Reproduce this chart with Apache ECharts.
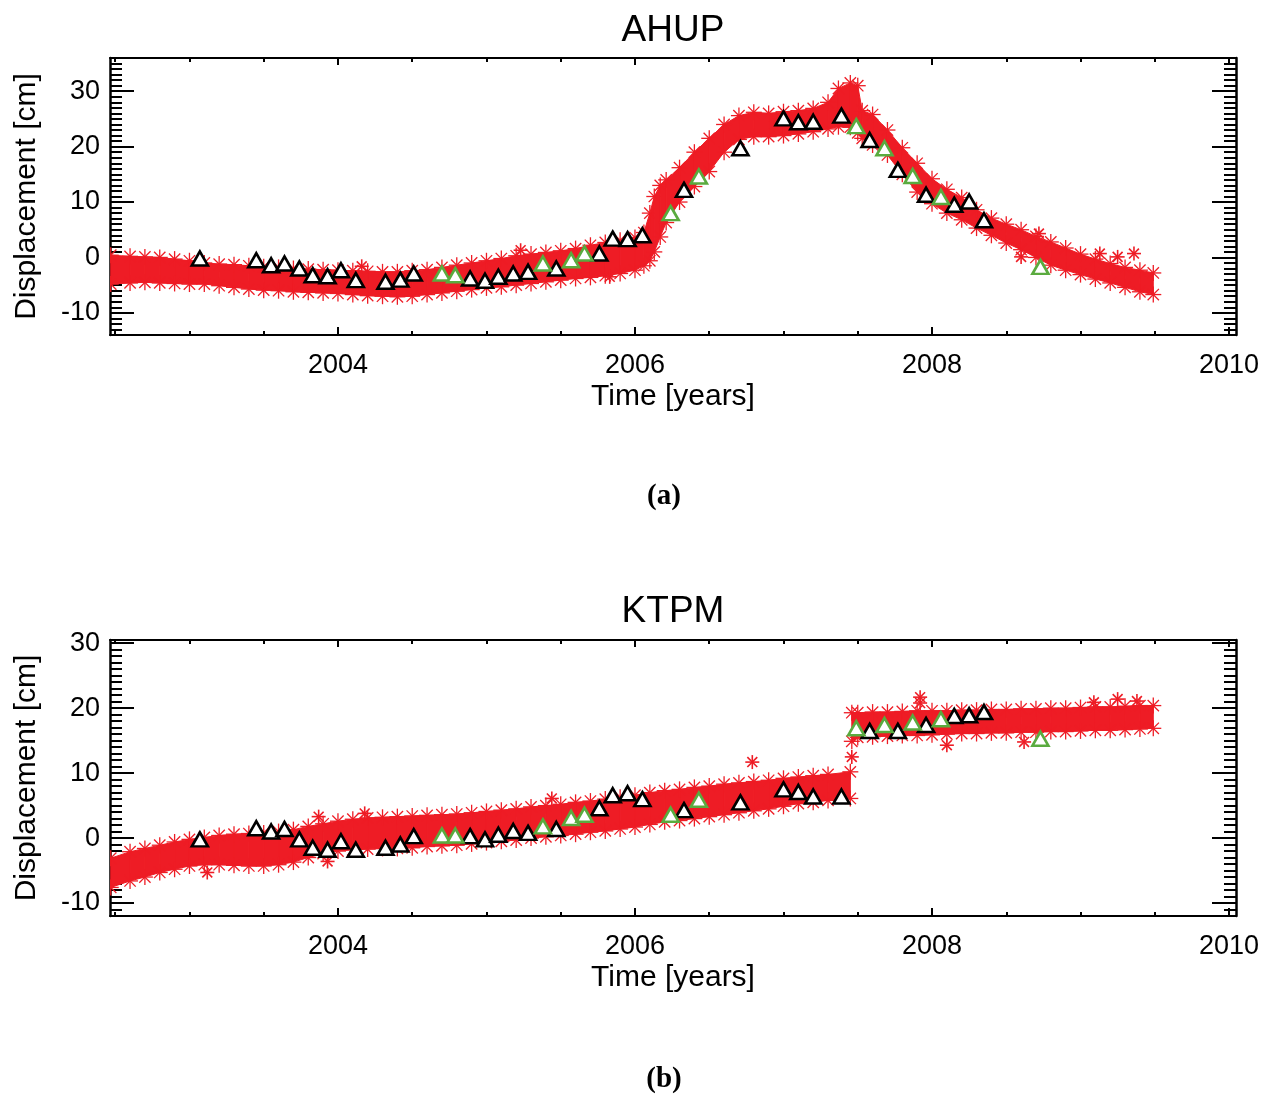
<!DOCTYPE html>
<html>
<head>
<meta charset="utf-8">
<title>AHUP / KTPM displacement</title>
<script src="https://cdn.jsdelivr.net/npm/echarts@6/dist/echarts.min.js"></script>
<style>
    html, body { margin: 0; padding: 0; background: #fff; }
    #main { width: 1278px; height: 1095px; }
</style>
</head>
<body>
<div id="main"></div>
<script>
// axis extents / ticks
var timeRange = [2002.465, 2010.047];
var yearLabels = [2004, 2006, 2008, 2010];
var halfYears = [2002.5, 2003, 2003.5, 2004, 2004.5, 2005, 2005.5, 2006, 2006.5, 2007, 2007.5, 2008, 2008.5, 2009, 2009.5, 2010];
var dispLabels = [-10, 0, 10, 20, 30];
var ahupRange = [-14, 36];
var ktpmRange = [-12, 30.5];

// AHUP GPS band (red asterisks): time, upper edge, lower edge [cm]
var ahupBandT  = [2002.47, 2002.6, 2002.7, 2002.8, 2002.9, 2003.0, 2003.1, 2003.2, 2003.3, 2003.4, 2003.5, 2003.6, 2003.7, 2003.8, 2003.9, 2004.0, 2004.1, 2004.2, 2004.3, 2004.4, 2004.5, 2004.6, 2004.7, 2004.8, 2004.9, 2005.0, 2005.1, 2005.2, 2005.3, 2005.4, 2005.5, 2005.6, 2005.7, 2005.8, 2005.9, 2006.0, 2006.06, 2006.1, 2006.13, 2006.17, 2006.21, 2006.3, 2006.4, 2006.5, 2006.6, 2006.7, 2006.8, 2006.9, 2007.0, 2007.1, 2007.2, 2007.3, 2007.37, 2007.45, 2007.5, 2007.53, 2007.6, 2007.7, 2007.8, 2007.9, 2008.0, 2008.1, 2008.2, 2008.3, 2008.4, 2008.5, 2008.6, 2008.7, 2008.8, 2008.9, 2009.0, 2009.1, 2009.2, 2009.3, 2009.4, 2009.49];
var ahupBandHi = [0.4, 0.2, 0.1, 0.0, -0.3, -0.6, -1.0, -1.2, -1.3, -1.5, -1.7, -1.8, -2.0, -2.1, -2.2, -2.3, -2.4, -2.5, -2.6, -2.6, -2.4, -2.2, -1.8, -1.4, -1.0, -0.6, -0.2, 0.3, 0.6, 0.9, 1.2, 1.6, 2.2, 2.7, 3.1, 3.6, 4.5, 8.0, 11.0, 13.0, 14.0, 16.2, 19.0, 21.5, 24.0, 25.6, 26.2, 26.0, 26.3, 26.5, 26.9, 28.0, 30.5, 31.5, 31.0, 26.5, 25.8, 23.0, 19.8, 17.0, 14.2, 12.3, 10.8, 8.6, 7.1, 6.0, 5.0, 3.8, 2.8, 1.7, 0.6, -0.3, -1.1, -1.8, -2.3, -2.8];
var ahupBandLo = [-4.8, -4.6, -4.5, -4.6, -4.7, -4.8, -4.8, -5.1, -5.4, -5.7, -5.9, -6.0, -6.2, -6.3, -6.4, -6.5, -6.7, -6.9, -7.0, -7.1, -7.0, -6.7, -6.4, -6.1, -5.8, -5.5, -5.3, -5.0, -4.7, -4.4, -4.1, -3.8, -3.6, -3.3, -2.9, -2.3, -1.5, -0.6, 1.0, 3.7, 6.3, 10.0, 12.8, 15.5, 19.0, 21.3, 21.8, 21.8, 22.0, 22.3, 22.7, 23.2, 23.6, 23.5, 22.5, 21.5, 20.3, 18.5, 15.0, 11.8, 9.7, 8.0, 6.8, 5.3, 4.0, 2.6, 1.4, 0.0, -1.4, -2.3, -3.1, -3.9, -4.6, -5.4, -6.2, -6.7];
var ahupOutliers = [[2004.16, -1.6], [2005.23, 1.3], [2005.83, -3.5], [2008.6, 0.1], [2008.72, 4.3], [2009.13, 0.7], [2009.25, 0.1], [2009.36, 0.7]];

// AHUP InSAR points (black and green triangles)
var ahupBlack = [[2003.07, -0.2], [2003.45, -0.5], [2003.55, -1.4], [2003.64, -1.1], [2003.74, -2.0], [2003.83, -3.2], [2003.93, -3.4], [2004.02, -2.3], [2004.12, -4.1], [2004.32, -4.4], [2004.42, -4.0], [2004.51, -2.9], [2004.89, -3.8], [2004.99, -4.2], [2005.08, -3.5], [2005.18, -2.9], [2005.28, -2.6], [2005.47, -2.0], [2005.76, 0.7], [2005.85, 3.4], [2005.95, 3.3], [2006.05, 4.0], [2006.33, 12.2], [2006.71, 19.7], [2007.0, 25.1], [2007.1, 24.4], [2007.2, 24.5], [2007.39, 25.6], [2007.58, 21.2], [2007.77, 15.8], [2007.96, 11.3], [2008.15, 9.5], [2008.25, 10.1], [2008.35, 6.7]];
var ahupGreen = [[2004.7, -2.9], [2004.79, -3.2], [2005.38, -1.1], [2005.57, -0.5], [2005.66, 0.7], [2006.24, 8.0], [2006.43, 14.6], [2007.49, 23.7], [2007.68, 19.7], [2007.87, 14.7], [2008.06, 10.9], [2008.73, -1.7]];

// KTPM GPS band, before and after the 2007.45 offset
var ktpmPreT  = [2002.47, 2002.6, 2002.7, 2002.8, 2002.9, 2003.0, 2003.1, 2003.2, 2003.3, 2003.4, 2003.5, 2003.6, 2003.7, 2003.8, 2003.9, 2004.0, 2004.1, 2004.2, 2004.3, 2004.4, 2004.5, 2004.6, 2004.7, 2004.8, 2004.9, 2005.0, 2005.1, 2005.2, 2005.3, 2005.4, 2005.5, 2005.6, 2005.7, 2005.8, 2005.9, 2006.0, 2006.1, 2006.2, 2006.3, 2006.4, 2006.5, 2006.6, 2006.7, 2006.8, 2006.9, 2007.0, 2007.1, 2007.2, 2007.3, 2007.45];
var ktpmPreHi = [-3.1, -2.1, -1.6, -1.1, -0.6, -0.2, 0.1, 0.4, 0.6, 0.7, 0.8, 1.0, 1.3, 1.8, 2.2, 2.6, 2.9, 3.1, 3.2, 3.3, 3.4, 3.5, 3.6, 3.7, 3.9, 4.1, 4.3, 4.5, 4.8, 5.0, 5.2, 5.5, 5.7, 6.0, 6.3, 6.6, 7.0, 7.3, 7.5, 7.8, 8.0, 8.3, 8.5, 8.7, 8.9, 9.2, 9.4, 9.6, 9.8, 10.2];
var ktpmPreLo = [-7.6, -6.6, -6.0, -5.3, -4.8, -4.3, -4.1, -4.1, -4.2, -4.3, -4.3, -4.1, -3.7, -3.0, -2.4, -2.0, -1.8, -1.7, -1.6, -1.6, -1.5, -1.3, -1.2, -1.1, -0.9, -0.7, -0.5, -0.3, 0.0, 0.2, 0.4, 0.6, 0.9, 1.1, 1.4, 1.7, 2.1, 2.5, 2.7, 3.0, 3.3, 3.6, 3.9, 4.2, 4.5, 4.9, 5.3, 5.5, 5.8, 6.1];
var ktpmPostT  = [2007.46, 2007.5, 2007.6, 2007.7, 2007.8, 2007.9, 2008.0, 2008.1, 2008.2, 2008.3, 2008.4, 2008.5, 2008.6, 2008.7, 2008.8, 2008.9, 2009.0, 2009.1, 2009.2, 2009.3, 2009.4, 2009.49];
var ktpmPostHi = [19.3, 19.3, 19.4, 19.4, 19.5, 19.6, 19.6, 19.6, 19.7, 19.7, 19.8, 19.8, 19.9, 19.9, 20.0, 20.0, 20.1, 20.2, 20.2, 20.3, 20.4, 20.4];
var ktpmPostLo = [14.9, 15.5, 15.6, 15.7, 15.8, 15.8, 15.9, 16.0, 16.1, 16.1, 16.2, 16.2, 16.3, 16.3, 16.4, 16.4, 16.5, 16.6, 16.6, 16.7, 16.8, 16.9];
var ktpmOutliers = [[2003.12, -5.3], [2003.87, 3.3], [2003.93, -3.6], [2004.18, 3.8], [2005.44, 6.1], [2006.79, 11.7], [2007.46, 12.5], [2007.92, 21.7], [2007.92, 20.8], [2008.1, 14.3], [2008.62, 14.8], [2009.09, 20.9], [2009.25, 21.4], [2009.38, 21.1]];

var ktpmBlack = [[2003.07, -0.2], [2003.45, 1.5], [2003.55, 1.0], [2003.64, 1.4], [2003.74, -0.2], [2003.83, -1.5], [2003.93, -1.8], [2004.02, -0.5], [2004.12, -1.8], [2004.32, -1.5], [2004.42, -1.0], [2004.51, 0.3], [2004.89, 0.3], [2004.99, -0.2], [2005.08, 0.5], [2005.18, 1.1], [2005.28, 0.8], [2005.47, 1.4], [2005.76, 4.6], [2005.85, 6.6], [2005.95, 6.9], [2006.05, 6.0], [2006.33, 4.3], [2006.71, 5.5], [2007.0, 7.5], [2007.1, 7.1], [2007.2, 6.4], [2007.39, 6.4], [2007.58, 16.5], [2007.77, 16.5], [2007.96, 17.4], [2008.15, 18.8], [2008.25, 18.9], [2008.35, 19.4]];
var ktpmGreen = [[2004.7, 0.4], [2004.79, 0.4], [2005.38, 1.8], [2005.57, 3.1], [2005.66, 3.6], [2006.24, 3.6], [2006.43, 5.9], [2007.49, 16.9], [2007.68, 17.4], [2007.87, 17.8], [2008.06, 18.3], [2008.73, 15.3]];

var RED = '#ee1c25', GREEN = '#5aab3f', SANS = '"Liberation Sans", Arial, sans-serif';

function unitTicks(range) {                      // minor ticks every 1 cm
    var arr = [];
    for (var v = Math.ceil(range[0]); v <= range[1]; v++) arr.push(v);
    return arr;
}

function star(p, r, w) {                          // IDL style asterisk
    var d = r * 0.707;
    var segs = [[-r, 0, r, 0], [0, -r, 0, r], [-d, -d, d, d], [-d, d, d, -d]];
    return {
        type: 'group',
        children: segs.map(function (s) {
            return {
                type: 'line',
                shape: { x1: p[0] + s[0], y1: p[1] + s[1], x2: p[0] + s[2], y2: p[1] + s[3] },
                style: { stroke: RED, lineWidth: w }
            };
        })
    };
}

function bandSeries(T, HI, LO, axis) {
    return {
        type: 'custom',
        xAxisIndex: axis, yAxisIndex: axis,
        clip: true, silent: true, z: 2,
        data: T.map(function (t, i) { return [t, LO[i], HI[i]]; }),
        encode: { x: 0, y: [1, 2] },
        renderItem: function (params, api) {
            var i = params.dataIndex;
            var top = api.coord([T[i], HI[i]]), bot = api.coord([T[i], LO[i]]);
            var kids = [];
            if (i + 1 < T.length) {
                var top2 = api.coord([T[i + 1], HI[i + 1]]), bot2 = api.coord([T[i + 1], LO[i + 1]]);
                kids.push({
                    type: 'polygon',
                    shape: { points: [top, top2, bot2, bot] },
                    style: { fill: RED, stroke: RED, lineWidth: 1 }
                });
            }
            kids.push(star(top, 8, 1.3), star(bot, 8, 1.3));
            return { type: 'group', children: kids };
        }
    };
}

function outlierSeries(pts, axis) {
    return {
        type: 'custom',
        xAxisIndex: axis, yAxisIndex: axis,
        clip: true, silent: true, z: 3,
        data: pts,
        renderItem: function (params, api) {
            return star(api.coord([api.value(0), api.value(1)]), 7, 1.6);
        }
    };
}

function triSeries(pts, color, axis) {
    return {
        type: 'scatter',
        xAxisIndex: axis, yAxisIndex: axis,
        data: pts, z: 5, silent: true,
        symbol: 'triangle', symbolSize: [16, 14],
        itemStyle: { color: '#fff', borderColor: color, borderWidth: 2.6, opacity: 1 }
    };
}

function plain(v) { return String(v); }

function xAxes(g) {
    var base = { gridIndex: g, type: 'value', min: timeRange[0], max: timeRange[1], splitLine: { show: false } };
    var line = { show: true, onZero: false, lineStyle: { color: '#000', width: 2 } };
    var off = { show: false, onZero: false };
    return [
        Object.assign({}, base, {
            position: 'bottom', axisLine: line,
            axisTick: { inside: true, length: 8, customValues: yearLabels, lineStyle: { color: '#000', width: 2 } },
            axisLabel: { customValues: yearLabels, formatter: plain, color: '#000', fontSize: 27, fontFamily: SANS, margin: 17 },
            name: 'Time [years]', nameLocation: 'middle', nameGap: 47,
            nameTextStyle: { color: '#000', fontSize: 30, fontFamily: SANS }
        }),
        Object.assign({}, base, {
            position: 'bottom', axisLine: off, axisLabel: { show: false },
            axisTick: { inside: true, length: 4, customValues: halfYears, lineStyle: { color: '#000', width: 2 } }
        }),
        Object.assign({}, base, {
            position: 'top', axisLine: line, axisLabel: { show: false },
            axisTick: { inside: true, length: 7, customValues: yearLabels, lineStyle: { color: '#000', width: 2 } }
        }),
        Object.assign({}, base, {
            position: 'top', axisLine: off, axisLabel: { show: false },
            axisTick: { inside: true, length: 4, customValues: halfYears, lineStyle: { color: '#000', width: 2 } }
        })
    ];
}

function yAxes(g, range) {
    var base = { gridIndex: g, type: 'value', min: range[0], max: range[1], splitLine: { show: false } };
    var line = { show: true, onZero: false, lineStyle: { color: '#000', width: 2.5 } };
    var off = { show: false, onZero: false };
    var minor = unitTicks(range);
    return [
        Object.assign({}, base, {
            position: 'left', axisLine: line,
            axisTick: { inside: true, length: 24, customValues: dispLabels, lineStyle: { color: '#000', width: 2 } },
            axisLabel: { customValues: dispLabels, formatter: plain, color: '#000', fontSize: 27, fontFamily: SANS, margin: 10 },
            name: 'Displacement [cm]', nameLocation: 'middle', nameGap: 68,
            nameTextStyle: { color: '#000', fontSize: 30, fontFamily: SANS }
        }),
        Object.assign({}, base, {
            position: 'left', axisLine: off, axisLabel: { show: false },
            axisTick: { inside: true, length: 12, customValues: minor, lineStyle: { color: '#000', width: 2 } }
        }),
        Object.assign({}, base, {
            position: 'right', axisLine: line, axisLabel: { show: false },
            axisTick: { inside: true, length: 24, customValues: dispLabels, lineStyle: { color: '#000', width: 2 } }
        }),
        Object.assign({}, base, {
            position: 'right', axisLine: off, axisLabel: { show: false },
            axisTick: { inside: true, length: 12, customValues: minor, lineStyle: { color: '#000', width: 2 } }
        })
    ];
}

function label(text, x, y, font) {
    return { type: 'text', x: x, y: y, silent: true,
        style: { text: text, font: font, fill: '#000', align: 'center', verticalAlign: 'middle' } };
}

var chart = echarts.init(document.getElementById('main'));
chart.setOption({
    animation: false,
    backgroundColor: '#fff',
    grid: [
        { left: 110, right: 42, top: 58, height: 277 },
        { left: 110, right: 42, top: 640, height: 276 }
    ],
    xAxis: xAxes(0).concat(xAxes(1)),
    yAxis: yAxes(0, ahupRange).concat(yAxes(1, ktpmRange)),
    graphic: [
        label('AHUP', 673, 31, '37px ' + SANS),
        label('KTPM', 673, 612, '37px ' + SANS),
        label('(a)', 664, 497, 'bold 29px "Liberation Serif", "Times New Roman", serif'),
        label('(b)', 664, 1080, 'bold 29px "Liberation Serif", "Times New Roman", serif')
    ],
    series: [
        bandSeries(ahupBandT, ahupBandHi, ahupBandLo, 0),
        outlierSeries(ahupOutliers, 0),
        triSeries(ahupBlack, '#000', 0),
        triSeries(ahupGreen, GREEN, 0),
        bandSeries(ktpmPreT, ktpmPreHi, ktpmPreLo, 4),
        bandSeries(ktpmPostT, ktpmPostHi, ktpmPostLo, 4),
        outlierSeries(ktpmOutliers, 4),
        triSeries(ktpmBlack, '#000', 4),
        triSeries(ktpmGreen, GREEN, 4)
    ]
});
</script>
</body>
</html>
